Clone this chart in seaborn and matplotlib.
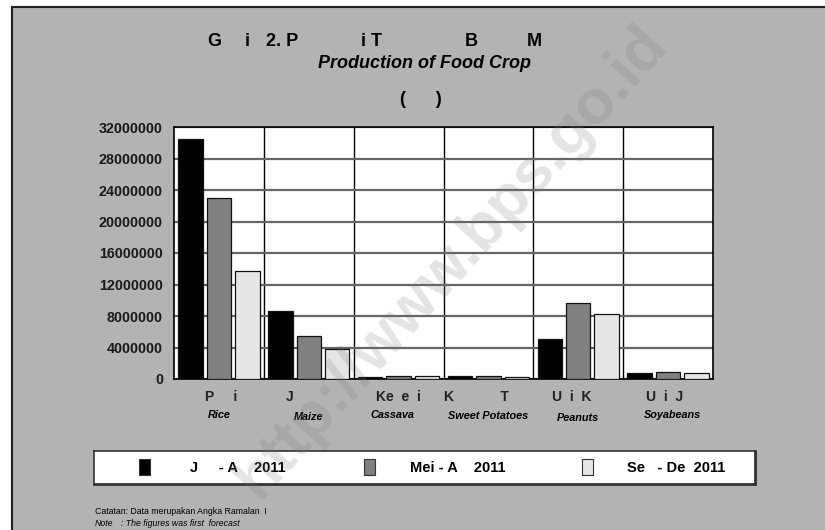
import numpy as np
import pandas as pd
import matplotlib
matplotlib.use("Agg")
import matplotlib.pyplot as plt
import matplotlib.transforms as mtransforms
from matplotlib.patches import Rectangle
from matplotlib.ticker import FuncFormatter
import seaborn as sns

# --- DATA ---
categories = ["Padi", "Jagung", "Kedelai", "Kacang Tanah", "Ubi Kayu", "Ubi Jalar"]
labels_id = ["P     i", "J", "Ke  e  i", "K            T", "U  i  K", "U  i  J"]
labels_en = ["Rice", "Maize", "Cassava", "Sweet Potatoes", "Peanuts", "Soyabeans"]
periods = ["Jan - Apr 2011", "Mei - Agu 2011", "Sep - Des 2011"]
legend_labels = ["J     - A    2011", "Mei - A    2011", "Se   - De  2011"]
jan_apr = [30500000, 8650000, 220000, 380000, 5050000, 760000]
mei_agu = [23000000, 5450000, 360000, 350000, 9700000, 840000]
sep_des = [13750000, 3800000, 380000, 220000, 8200000, 750000]
yticks = list(range(0, 32000001, 4000000))

df = pd.DataFrame({
    "kategori": categories * 3,
    "periode": [periods[0]] * 6 + [periods[1]] * 6 + [periods[2]] * 6,
    "produksi": jan_apr + mei_agu + sep_des,
})

colors = ["#000000", "#808080", "#e6e6e6"]
BG = "#b3b3b3"

sns.set_theme(style="white")
plt.rcParams["font.family"] = ["Liberation Sans", "DejaVu Sans"]
ARIAL = ["Liberation Sans", "DejaVu Sans"]

W, H = 825, 530
fig = plt.figure(figsize=(W / 100, H / 100), dpi=100)
fig.patch.set_facecolor("white")

def fx(x):
    return x / W

def fy(y):
    return 1 - y / H

# panneau gris
fig.patches.append(Rectangle((fx(12), -0.02), 1.0, fy(7) + 0.02, transform=fig.transFigure,
                             facecolor=BG, edgecolor="#222222", linewidth=1.5, zorder=-5))

# watermark
fig.text(fx(452), fy(262), "http://www.bps.go.id", rotation=48, ha="center", va="center",
         fontsize=45, fontweight="bold", family=ARIAL, color="#7a7a7a", alpha=0.2, zorder=10)

# --- GRAPHIQUE ---
ax = fig.add_axes([fx(174), fy(379), fx(713) - fx(174), fy(127) - fy(379)])
ax.set_facecolor("white")
sns.barplot(data=df, x="kategori", y="produksi", hue="periode", palette=colors,
            width=0.95, gap=0.14, errorbar=None, edgecolor="#111111", linewidth=0.9,
            legend=False, ax=ax, zorder=3)

ax.set_xlim(-0.5, 5.5)
ax.set_ylim(0, 32000000)
ax.set_yticks(yticks)
ax.yaxis.set_major_formatter(FuncFormatter(lambda v, p: f"{int(v)}"))
ax.set_xticks([])
ax.set_xticks(np.arange(0.5, 5.5, 1), minor=True)
ax.grid(axis="y", which="major", color="#666666", linewidth=1.6, zorder=1)
ax.grid(axis="x", which="minor", color="#000000", linewidth=1.0, zorder=1)
ax.set_axisbelow(True)
ax.tick_params(axis="y", which="major", direction="in", length=3, pad=8,
               labelsize=10.3, color="#333333")
ax.tick_params(axis="x", which="minor", length=0)
for lab in ax.get_yticklabels():
    lab.set_fontweight("bold")
    lab.set_color("#1a1a1a")
for s in ax.spines.values():
    s.set_color("black")
    s.set_linewidth(1.2)
ax.set_xlabel("")
ax.set_ylabel("")

# étiquettes des catégories (2 lignes)
trans = mtransforms.blended_transform_factory(ax.transData, fig.transFigure)
id_offsets = [-0.15, -0.26, -0.255, -0.5, -0.29, -0.245]
for i, lab in enumerate(labels_id):
    ax.text(i + id_offsets[i], fy(397), lab, transform=trans, ha="left", va="center",
            fontsize=10, fontweight="bold", color="#222222")
en_offsets = [0.0, 0.0, -0.07, 0.0, 0.0, 0.05]
en_dy = [415, 417, 415, 416, 418, 415]
for i, lab in enumerate(labels_en):
    ax.text(i + en_offsets[i], fy(en_dy[i]), lab, transform=trans, ha="center", va="center",
            fontsize=7.8, fontweight="bold", fontstyle="italic", color="black")

# --- TITRE ---
title_parts = [("G", 207), ("i", 245), ("2. P", 266), ("i T", 361), ("B", 465), ("M", 527)]
for txt, x in title_parts:
    fig.text(fx(x), fy(41), txt, ha="left", va="center", fontsize=13, fontweight="bold",
             color="black")
fig.text(fx(425), fy(64), "Production of Food Crop", ha="center", va="center", fontsize=13,
         fontweight="bold", fontstyle="italic", color="black")
fig.text(fx(421), fy(99), "(      )", ha="center", va="center", fontsize=13,
         fontweight="bold", color="black")

# --- LEGENDE ---
lax = fig.add_axes([fx(94), fy(484), fx(755) - fx(94), fy(451) - fy(484)])
lax.set_xlim(94, 755)
lax.set_ylim(484, 451)
lax.set_facecolor("white")
lax.set_xticks([])
lax.set_yticks([])
for s in lax.spines.values():
    s.set_color("#333333")
    s.set_linewidth(1.2)
lax.spines["right"].set_linewidth(2)
lax.spines["bottom"].set_linewidth(2)
box_x = [139, 364, 582]
text_x = [190, 410, 627]
for bx, tx, c, lab in zip(box_x, text_x, colors, legend_labels):
    lax.add_patch(Rectangle((bx, 459), 11, 16, facecolor=c, edgecolor="#333333", linewidth=0.8))
    lax.text(tx, 467.5, lab, ha="left", va="center", fontsize=10.5, fontweight="bold",
             color="black")

# --- NOTE ---
fig.text(fx(95), fy(512), "Catatan: Data merupakan Angka Ramalan  I", ha="left", va="center",
         fontsize=6.3, color="black")
fig.text(fx(95), fy(523), "Note", ha="left", va="center", fontsize=6.3, fontstyle="italic",
         color="black")
fig.text(fx(121), fy(523), ": The figures was first  forecast", ha="left", va="center",
         fontsize=6.3, fontstyle="italic", color="black")

plt.savefig("out.png", dpi=100, facecolor=fig.get_facecolor())
